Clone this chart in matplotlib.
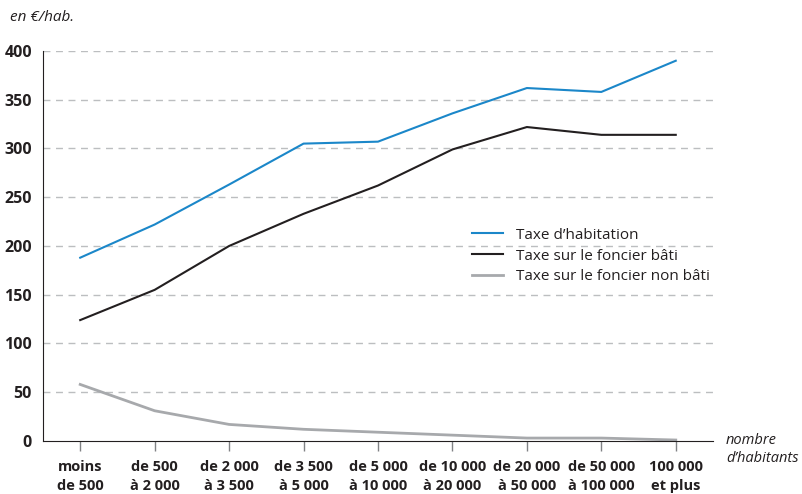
#!/usr/bin/env python3
"""
Taxes locales par habitant selon la taille de la commune
"""
import matplotlib.pyplot as plt

categories = ["moins\nde 500", "de 500\nà 2 000", "de 2 000\nà 3 500",
              "de 3 500\nà 5 000", "de 5 000\nà 10 000", "de 10 000\nà 20 000",
              "de 20 000\nà 50 000", "de 50 000\nà 100 000", "100 000\net plus"]
taxe_habitation = [188, 222, 263, 305, 307, 336, 362, 358, 390]
foncier_bati = [124, 155, 200, 233, 262, 299, 322, 314, 314]
foncier_non_bati = [58, 31, 17, 12, 9, 6, 3, 3, 1]

plt.rcParams['font.family'] = ['Open Sans', 'DejaVu Sans']

fig = plt.figure(figsize=(8.02, 4.94), dpi=100)
ax = fig.add_axes([0.0536, 0.1073, 0.8354, 0.7895])

x = list(range(len(categories)))
ax.plot(x, taxe_habitation, color='#1b87c9', lw=1.5, label="Taxe d\u2019habitation")
ax.plot(x, foncier_bati, color='#231f20', lw=1.5, label="Taxe sur le foncier bâti")
ax.plot(x, foncier_non_bati, color='#a7a9ac', lw=2, label="Taxe sur le foncier non bâti")

ax.set_xlim(-0.5, 8.5)
ax.set_ylim(0, 400)
ax.set_yticks(range(0, 401, 50))
ax.set_xticks(x)
ax.set_xticklabels(categories, fontweight='bold', fontsize=10.5, color='#231f20',
                   linespacing=1.4)
for lab in ax.get_yticklabels():
    lab.set_fontweight('bold')
    lab.set_fontsize(11.5)
    lab.set_color('#231f20')

#dashed horizontal grid, except at 0
for v in range(50, 401, 50):
    ax.axhline(v, color='#bcbec0', lw=1, ls=(0, (5, 4)), zorder=0)

for side in ['top', 'right']:
    ax.spines[side].set_visible(False)
ax.spines['left'].set_color('#231f20')
ax.spines['bottom'].set_color('#231f20')
ax.tick_params(axis='y', length=0, pad=8)
ax.tick_params(axis='x', length=7, color='#808285', width=1, pad=7)

ax.legend(loc='upper left', bbox_to_anchor=(0.62, 0.582), frameon=False,
          fontsize=11, handlelength=2.0, handletextpad=0.9, labelspacing=0.38,
          labelcolor='#231f20')

fig.text(0.012, 0.965, "en €/hab.", fontstyle='italic', fontsize=11,
         color='#231f20', va='center')
fig.text(0.905, 0.09, "nombre\nd\u2019habitants", fontstyle='italic', fontsize=10.5,
         color='#231f20', va='center', ha='left', linespacing=1.2)

plt.savefig("out.png", dpi=100)
